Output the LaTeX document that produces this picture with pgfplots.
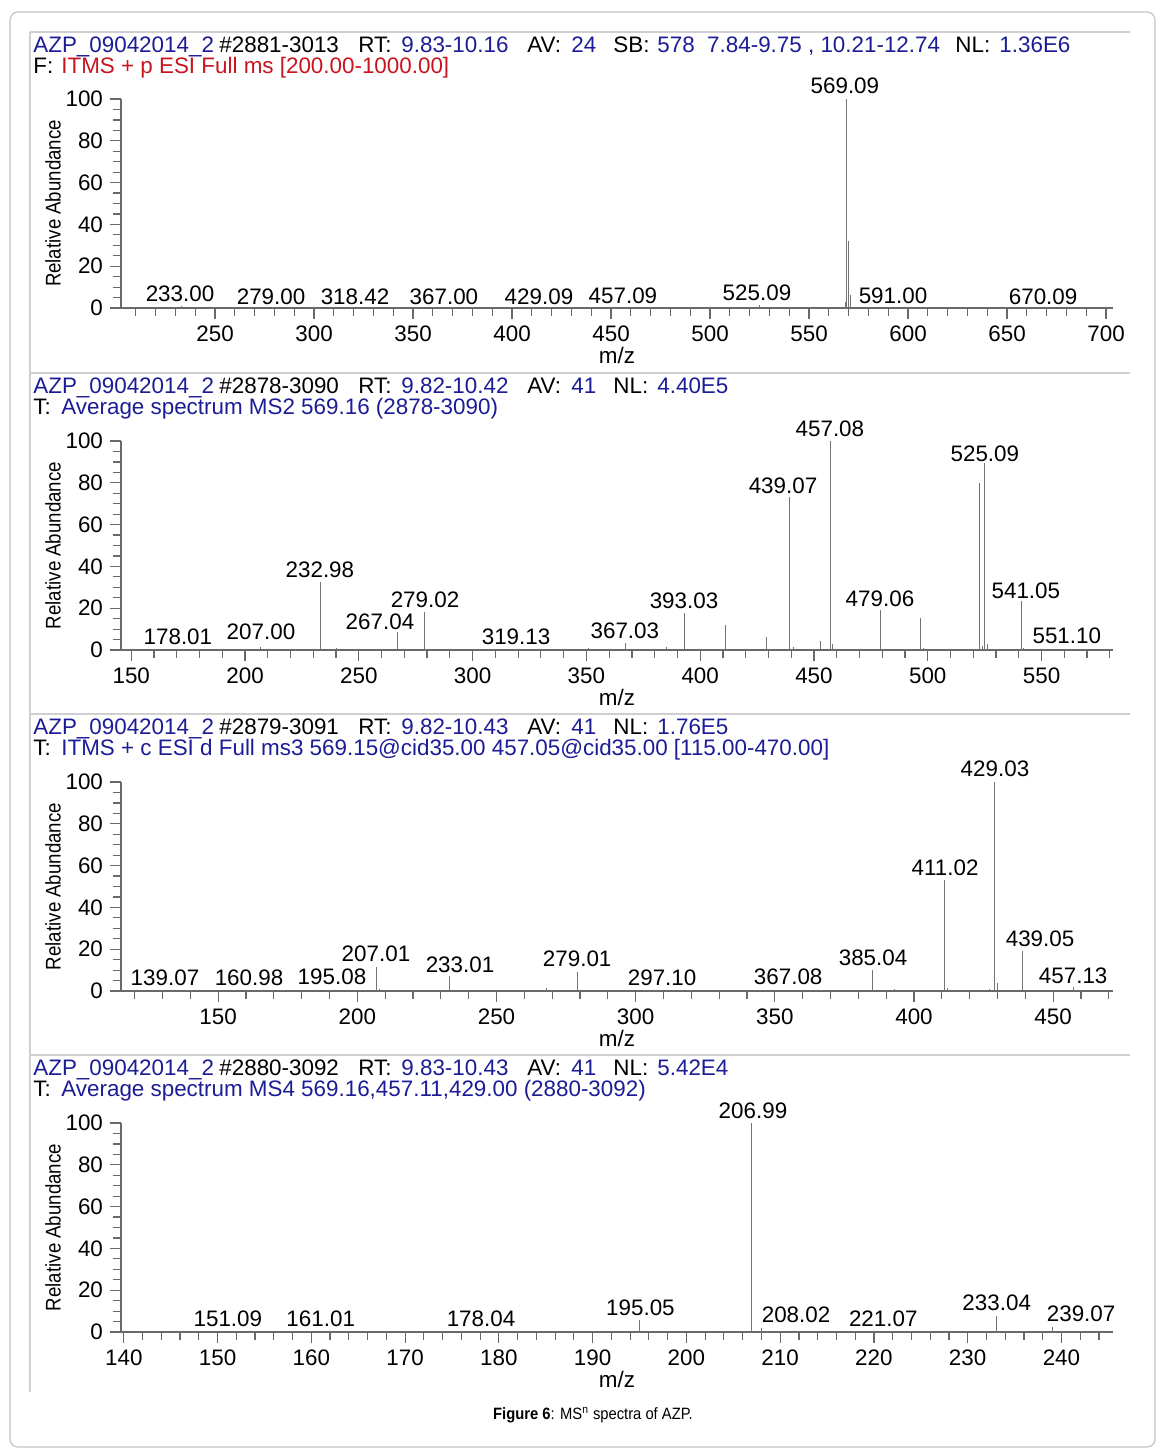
\documentclass[border=0pt]{standalone}
\usepackage{fontspec}
\setmainfont{Liberation Sans}
\usepackage{graphicx}
\usepackage{pgfplots}
\pgfplotsset{compat=1.18}
\definecolor{hdrblue}{RGB}{28,28,150}
\definecolor{hdrred}{RGB}{200,20,30}
\definecolor{axgray}{RGB}{105,105,105}
\definecolor{pkgray}{RGB}{115,115,115}
\definecolor{framegray}{RGB}{195,195,195}
\newcommand{\fs}{\fontsize{11.2}{13}\selectfont}
\tikzset{lbl/.style={font=\fs, inner sep=0pt}}
\pgfplotsset{
 msaxis/.style={
   scale only axis, width=496pt, height=104.5pt, anchor=south west,
   ymin=0, ymax=100, clip=false,
   axis x line*=bottom, axis y line*=left,
   axis line style={axgray, line width=0.6pt},
   every tick/.style={axgray, line width=0.6pt},
   major tick length=5.5pt, minor tick length=4pt,
   tick align=outside,
   ytick={0,20,...,100}, minor ytick={5,10,...,95},
   ticklabel style={font=\fs},
   /pgf/number format/assume math mode=true,
   xlabel={m/z}, ylabel={\scalebox{0.88}[1]{Relative Abundance}},
   xlabel style={at={(axis description cs:0.5,0)}, anchor=center, yshift=-23.5pt, font=\fs},
   ylabel style={at={(axis description cs:-0.0685,0.5)}, anchor=center, font=\fontsize{10.6}{12}\selectfont},
 },
 pk/.style={ycomb, pkgray, line width=0.5pt, mark=none},
}
\begin{document}
\begin{tikzpicture}
\path (0pt,0pt) rectangle (583pt,-728pt);
\draw[framegray, line width=0.6pt, rounded corners=4pt] (5pt,-6pt) rectangle (577.5pt,-723.5pt);
\draw[framegray!80, line width=0.6pt] (15pt,-16pt) -- (565pt,-16pt);
\draw[framegray!80, line width=0.6pt] (15pt,-186.5pt) -- (565pt,-186.5pt);
\draw[framegray!80, line width=0.6pt] (15pt,-357pt) -- (565pt,-357pt);
\draw[framegray!80, line width=0.6pt] (15pt,-527.5pt) -- (565pt,-527.5pt);
\draw[framegray!80, line width=0.6pt] (15pt,-16pt) -- (15pt,-696pt);

% ---------- headers ----------
\tikzset{hd/.style={anchor=base west, inner sep=0pt, font=\fs}}
% panel 1
\node[hd, hdrblue] at (16.5pt,-26pt) {AZP\_09042014\_2};
\node[hd] at (109.5pt,-26pt) {\#2881-3013};
\node[hd] at (179pt,-26pt) {RT:};
\node[hd, hdrblue] at (200.5pt,-26pt) {9.83-10.16};
\node[hd] at (263.5pt,-26pt) {AV:};
\node[hd, hdrblue] at (285.5pt,-26pt) {24};
\node[hd] at (306.5pt,-26pt) {SB:};
\node[hd, hdrblue] at (328.5pt,-26pt) {578\ \ 7.84-9.75 , 10.21-12.74};
\node[hd] at (477.5pt,-26pt) {NL:};
\node[hd, hdrblue] at (499.5pt,-26pt) {1.36E6};
\node[hd] at (16.5pt,-36.5pt) {F:};
\node[hd, hdrred] at (30.5pt,-36.5pt) {ITMS + p ESI Full ms [200.00-1000.00]};
% panel 2
\node[hd, hdrblue] at (16.5pt,-196.5pt) {AZP\_09042014\_2};
\node[hd] at (109.5pt,-196.5pt) {\#2878-3090};
\node[hd] at (179pt,-196.5pt) {RT:};
\node[hd, hdrblue] at (200.5pt,-196.5pt) {9.82-10.42};
\node[hd] at (263.5pt,-196.5pt) {AV:};
\node[hd, hdrblue] at (285.5pt,-196.5pt) {41};
\node[hd] at (306.5pt,-196.5pt) {NL:};
\node[hd, hdrblue] at (328.5pt,-196.5pt) {4.40E5};
\node[hd] at (16.5pt,-207pt) {T:};
\node[hd, hdrblue] at (30.5pt,-207pt) {Average spectrum MS2 569.16 (2878-3090)};
% panel 3
\node[hd, hdrblue] at (16.5pt,-367pt) {AZP\_09042014\_2};
\node[hd] at (109.5pt,-367pt) {\#2879-3091};
\node[hd] at (179pt,-367pt) {RT:};
\node[hd, hdrblue] at (200.5pt,-367pt) {9.82-10.43};
\node[hd] at (263.5pt,-367pt) {AV:};
\node[hd, hdrblue] at (285.5pt,-367pt) {41};
\node[hd] at (306.5pt,-367pt) {NL:};
\node[hd, hdrblue] at (328.5pt,-367pt) {1.76E5};
\node[hd] at (16.5pt,-377.5pt) {T:};
\node[hd, hdrblue] at (30.5pt,-377.5pt) {ITMS + c ESI d Full ms3 569.15@cid35.00 457.05@cid35.00 [115.00-470.00]};
% panel 4
\node[hd, hdrblue] at (16.5pt,-537.5pt) {AZP\_09042014\_2};
\node[hd] at (109.5pt,-537.5pt) {\#2880-3092};
\node[hd] at (179pt,-537.5pt) {RT:};
\node[hd, hdrblue] at (200.5pt,-537.5pt) {9.83-10.43};
\node[hd] at (263.5pt,-537.5pt) {AV:};
\node[hd, hdrblue] at (285.5pt,-537.5pt) {41};
\node[hd] at (306.5pt,-537.5pt) {NL:};
\node[hd, hdrblue] at (328.5pt,-537.5pt) {5.42E4};
\node[hd] at (16.5pt,-548pt) {T:};
\node[hd, hdrblue] at (30.5pt,-548pt) {Average spectrum MS4 569.16,457.11,429.00 (2880-3092)};

% ---------- panel 1 ----------
\begin{axis}[msaxis, at={(60.5pt,-154pt)},
  xmin=202.5, xmax=703.5,
  xtick={250,300,...,700}, minor xtick={210,220,...,700}]
\addplot[pk] coordinates {
 (233.0,0.8) (279.0,0.4) (318.4,0.3) (367.0,0.3) (429.1,0.3) (457.1,0.5)
 (525.1,1.2) (568.5,3) (569.09,100) (570.1,32) (571.1,6) (591.0,0.4) (670.1,0.3)};
\node[lbl] at (axis cs:232.3,6.7) {233.00};
\node[lbl] at (axis cs:278.3,5.3) {279.00};
\node[lbl] at (axis cs:320.7,5.3) {318.42};
\node[lbl] at (axis cs:365.6,5.3) {367.00};
\node[lbl] at (axis cs:413.6,5.3) {429.09};
\node[lbl] at (axis cs:456.0,5.8) {457.09};
\node[lbl] at (axis cs:523.7,7.2) {525.09};
\node[lbl] at (axis cs:568.1,106.3) {569.09};
\node[lbl] at (axis cs:592.4,5.8) {591.00};
\node[lbl] at (axis cs:668.2,5.3) {670.09};
\end{axis}

% ---------- panel 2 ----------
\begin{axis}[msaxis, at={(60.5pt,-325pt)},
  xmin=145.5, xmax=581.4,
  xtick={150,200,...,550}, minor xtick={150,160,...,580}]
\addplot[pk] coordinates {
 (178.0,0.5) (189,0.4) (207.0,1.5) (215,0.5) (222,0.4) (232.98,32.5) (240,1.2)
 (249,0.5) (267.04,8.6) (279.02,18) (290,0.4) (319.1,0.5) (351,0.8) (367.03,3.3)
 (385,1.5) (393.03,17.7) (411,12) (429.3,6.2) (439.07,73) (441,1.5) (453,4.5)
 (457.08,100) (458.3,3) (479.06,19) (497,15.5) (498,0.8) (522.9,80) (524.1,2)
 (525.09,89.5) (526.3,3) (541.05,23.4) (542,0.8) (551.1,0.5) (565,0.3)};
\node[lbl] at (axis cs:170.5,6.2) {178.01};
\node[lbl] at (axis cs:207.0,8.6) {207.00};
\node[lbl] at (axis cs:232.9,38.3) {232.98};
\node[lbl] at (axis cs:259.3,13.4) {267.04};
\node[lbl] at (axis cs:279.1,23.9) {279.02};
\node[lbl] at (axis cs:319.1,6.2) {319.13};
\node[lbl] at (axis cs:366.9,9.1) {367.03};
\node[lbl] at (axis cs:392.9,23.4) {393.03};
\node[lbl] at (axis cs:436.4,78.5) {439.07};
\node[lbl] at (axis cs:457.0,105.7) {457.08};
\node[lbl] at (axis cs:479.0,24.4) {479.06};
\node[lbl] at (axis cs:525.1,93.8) {525.09};
\node[lbl] at (axis cs:543.1,28.2) {541.05};
\node[lbl] at (axis cs:561.1,6.7) {551.10};
\end{axis}

% ---------- panel 3 ----------
\begin{axis}[msaxis, at={(60.5pt,-495.5pt)},
  xmin=115.1, xmax=471.5,
  xtick={150,200,...,450}, minor xtick={120,130,...,470}]
\addplot[pk] coordinates {
 (139.07,0.4) (160.98,0.4) (166,0.6) (181,0.5) (195.08,0.6) (207.01,11.5) (208,1)
 (219,0.4) (233.01,7.2) (237,0.5) (252,0.4) (268,1.5) (279.01,9.1) (297.1,0.3)
 (340,0.4) (367.08,0.4) (385.04,10) (393,1.2) (396,0.6) (411.02,53) (412,1.5)
 (427,1) (429.03,100) (430,4) (439.05,19) (441,0.6) (457.13,2) (460,0.3)};
\node[lbl] at (axis cs:130.9,6.2) {139.07};
\node[lbl] at (axis cs:161.1,6.2) {160.98};
\node[lbl] at (axis cs:190.9,6.7) {195.08};
\node[lbl] at (axis cs:206.7,17.7) {207.01};
\node[lbl] at (axis cs:236.9,12.4) {233.01};
\node[lbl] at (axis cs:279.0,15.3) {279.01};
\node[lbl] at (axis cs:309.5,6.2) {297.10};
\node[lbl] at (axis cs:354.8,6.7) {367.08};
\node[lbl] at (axis cs:385.3,15.8) {385.04};
\node[lbl] at (axis cs:411.2,58.9) {411.02};
\node[lbl] at (axis cs:429.1,106.2) {429.03};
\node[lbl] at (axis cs:445.3,24.9) {439.05};
\node[lbl] at (axis cs:457.2,7.2) {457.13};
\end{axis}

% ---------- panel 4 ----------
\begin{axis}[msaxis, at={(60.5pt,-666pt)},
  xmin=139.7, xmax=245.5,
  xtick={140,150,...,240}, minor xtick={140,142,...,244}]
\addplot[pk] coordinates {
 (151.09,0.3) (161.01,0.3) (178.04,0.3) (195.05,5.7) (206.99,100) (208.02,2)
 (221.07,0.3) (233.04,7.6) (239.07,2.4)};
\node[lbl] at (axis cs:151.1,6.2) {151.09};
\node[lbl] at (axis cs:161.0,6.2) {161.01};
\node[lbl] at (axis cs:178.1,6.2) {178.04};
\node[lbl] at (axis cs:195.1,11.4) {195.05};
\node[lbl] at (axis cs:207.1,105.7) {206.99};
\node[lbl] at (axis cs:211.7,8.1) {208.02};
\node[lbl] at (axis cs:221.0,6.2) {221.07};
\node[lbl] at (axis cs:233.1,13.8) {233.04};
\node[lbl] at (axis cs:242.1,8.6) {239.07};
\end{axis}

\node[font=\fontsize{8.2}{10}\selectfont, inner sep=0pt] at (296.5pt,-707.5pt) {\scalebox{0.9}[1]{\textbf{Figure 6}: MS\textsuperscript{n} spectra of AZP.}};
\end{tikzpicture}
\end{document}
